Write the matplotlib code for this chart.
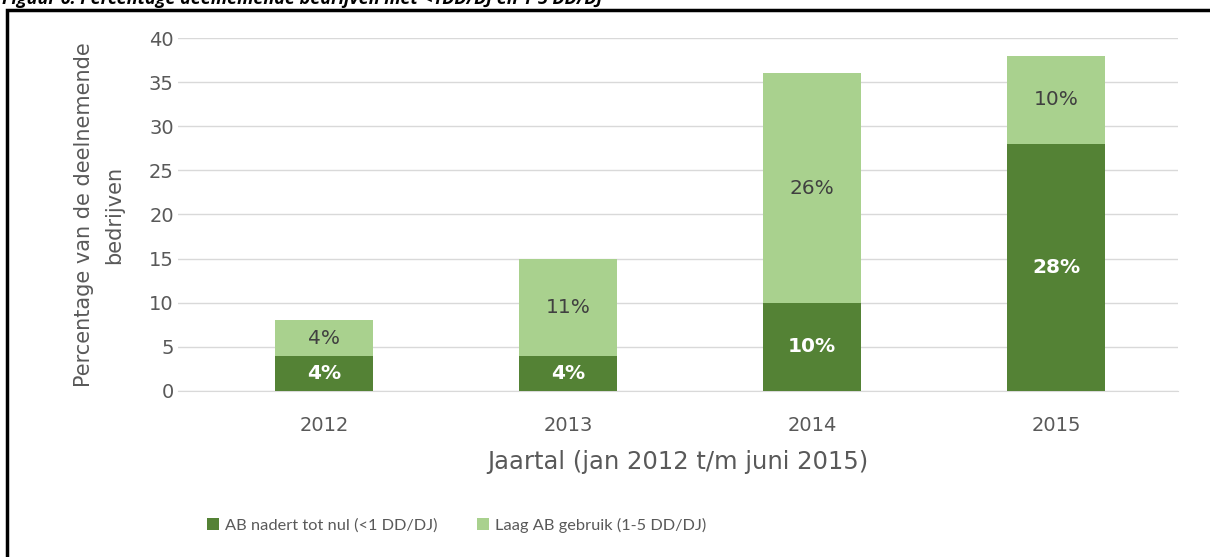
import matplotlib.pyplot as plt
from matplotlib.patches import Rectangle
import numpy as np

years = ['2012', '2013', '2014', '2015']
near_zero = [4, 4, 10, 28]      # AB nadert tot nul (<1 DD/DJ)
low_use = [4, 11, 26, 10]       # Laag AB gebruik (1-5 DD/DJ)
series_names = ['AB nadert tot nul (<1 DD/DJ)', 'Laag AB gebruik (1-5 DD/DJ)']
y_ticks = [0, 5, 10, 15, 20, 25, 30, 35, 40]

dark = '#548235'
light = '#A9D18E'
grey = '#595959'

plt.rcParams['font.family'] = ['DejaVu Sans']

fig = plt.figure(figsize=(12.1, 5.57), dpi=100)
W, H = 1210, 557
ax = fig.add_axes([178 / W, 1 - 391 / H, 1000 / W, 353 / H])

x = np.arange(len(years))
bw = 0.40
b1 = ax.bar(x, near_zero, bw, color=dark, label=series_names[0], zorder=3)
b2 = ax.bar(x, low_use, bw, bottom=near_zero, color=light, label=series_names[1], zorder=3)

for i in range(len(years)):
    ax.text(x[i], near_zero[i] / 2, f'{near_zero[i]}%', ha='center', va='center',
            color='white', fontweight='bold', fontsize=14.5, zorder=4)
    ax.text(x[i], near_zero[i] + low_use[i] / 2, f'{low_use[i]}%', ha='center', va='center',
            color='#404040', fontsize=14.5, zorder=4)

ax.set_xlim(-0.598, 3.5)
ax.set_ylim(0, 40)
ax.set_yticks(y_ticks)
ax.set_xticks(x)
ax.set_xticklabels(years)
ax.tick_params(length=0, labelsize=14, colors=grey)
ax.tick_params(axis='y', pad=3)
ax.tick_params(axis='x', pad=18)
ax.yaxis.grid(True, color='#D9D9D9', linewidth=1, zorder=0)
for s in ['top', 'right', 'left']:
    ax.spines[s].set_visible(False)
ax.spines['bottom'].set_color('#D9D9D9')

ax.set_xlabel('Jaartal (jan 2012 t/m juni 2015)', fontsize=17.5, color=grey, labelpad=11)
ax.set_ylabel('Percentage van de deelnemende\nbedrijven', fontsize=15, color=grey,
              labelpad=18, linespacing=1.65)

leg = fig.legend(handles=[b1, b2], loc='center', bbox_to_anchor=(457 / W, 1 - 525 / H),
                 ncol=2, frameon=False, handlelength=0.7, handleheight=0.7,
                 handletextpad=0.4, columnspacing=2.4,
                 prop={'family': ['Lato', 'DejaVu Sans'], 'size': 11.8})
for t in leg.get_texts():
    t.set_color(grey)

# outer frame, cut off at right and bottom
fig.patches.append(Rectangle((7 / W, -0.1), 1.2, 1 - 10 / H + 0.1, transform=fig.transFigure,
                             fill=False, edgecolor='black', linewidth=2.5))

# caption, mostly cropped off the top
fig.text(2 / W, 1 - 4 / H, 'Figuur 6: Percentage deelnemende bedrijven met <1DD/DJ en 1-5 DD/DJ',
         fontsize=13, fontweight='bold', fontstyle='italic', va='baseline', color='black',
         family=['Open Sans', 'DejaVu Sans'])

fig.savefig('out.png', dpi=100)
